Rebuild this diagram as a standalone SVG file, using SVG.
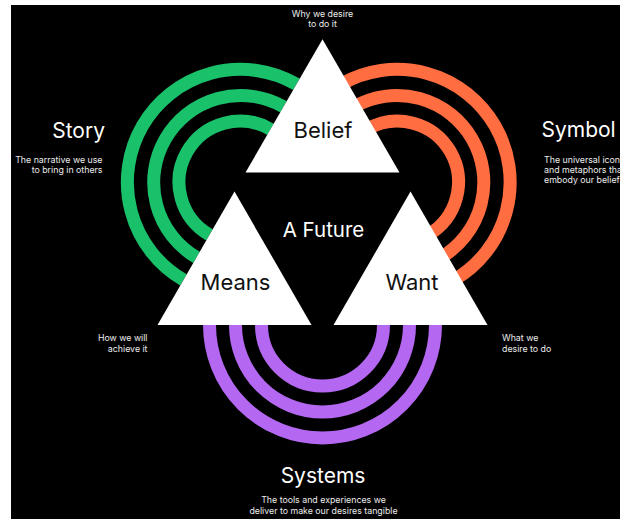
<svg xmlns="http://www.w3.org/2000/svg" width="621" height="519" viewBox="0 0 621 519">
<style>
.arc{fill:none;stroke-width:13;stroke-linecap:butt}
.g{stroke:#19c16b}
.o{stroke:#ff6d40}
.p{stroke:#b468f2}
.tri{fill:#ffffff}
.lbl{font-family:Inter,"Noto Sans",sans-serif;font-size:22px;fill:#111111;text-anchor:middle}
.title{font-family:Inter,"Noto Sans",sans-serif;font-size:21px;fill:#ffffff}
.desc{font-family:Inter,"Noto Sans",sans-serif;font-size:8.8px;fill:#ececec}
</style>
<rect x="0" y="0" width="621" height="519" fill="#ffffff"/>
<rect x="11" y="5" width="609" height="514" fill="#000000"/>
<g id="connectors">
<path class="arc g" d="M296.5 84.24 A113 113 0 0 0 183.5 279.96"/>
<path class="arc g" d="M283.5 106.76 A87 87 0 0 0 196.5 257.44"/>
<path class="arc g" d="M270.5 129.27 A61 61 0 0 0 209.5 234.93"/>
<path class="arc o" d="M341 84.24 A113 113 0 0 1 454 279.96"/>
<path class="arc o" d="M354 106.76 A87 87 0 0 1 441 257.44"/>
<path class="arc o" d="M367 129.27 A61 61 0 0 1 428 234.93"/>
<path class="arc p" d="M209.5 325 A113 113 0 0 0 435.5 325"/>
<path class="arc p" d="M235.5 325 A87 87 0 0 0 409.5 325"/>
<path class="arc p" d="M261.5 325 A61 61 0 0 0 383.5 325"/>
</g>
<g id="belief">
<polygon class="tri" points="322.5,39.2 399.5,172.6 245.5,172.6"/>
<text class="lbl" x="323" y="138.3">Belief</text>
<text class="desc" x="322.5" y="16.5" text-anchor="middle">Why we desire</text>
<text class="desc" x="322.5" y="26.5" text-anchor="middle">to do it</text>
</g>
<g id="means">
<polygon class="tri" points="234.5,191.6 311.5,325 157.5,325"/>
<text class="lbl" x="235.5" y="290">Means</text>
<text class="desc" x="147.5" y="340.7" text-anchor="end">How we will</text>
<text class="desc" x="147.5" y="351.7" text-anchor="end">achieve it</text>
</g>
<g id="want">
<polygon class="tri" points="410.5,191.6 487.5,325 333.5,325"/>
<text class="lbl" x="412" y="290">Want</text>
<text class="desc" x="502" y="340.7">What we</text>
<text class="desc" x="502" y="351.7">desire to do</text>
</g>
<g id="future">
<text class="title" x="323.5" y="236.7" text-anchor="middle" style="font-size:20.5px">A Future</text>
</g>
<g id="story">
<text class="title" x="105" y="138.3" text-anchor="end">Story</text>
<text class="desc" x="102.5" y="163.3" text-anchor="end">The narrative we use</text>
<text class="desc" x="102.5" y="173.3" text-anchor="end">to bring in others</text>
</g>
<g id="symbol">
<text class="title" x="541.5" y="137.3">Symbol</text>
<text class="desc" x="544" y="163.3">The universal icons</text>
<text class="desc" x="544" y="173.3">and metaphors that</text>
<text class="desc" x="544" y="183.3">embody our beliefs</text>
</g>
<g id="systems">
<text class="title" x="323" y="483" text-anchor="middle">Systems</text>
<text class="desc" x="323.5" y="503" text-anchor="middle">The tools and experiences we</text>
<text class="desc" x="323.5" y="513.5" text-anchor="middle">deliver to make our desires tangible</text>
</g>
</svg>
